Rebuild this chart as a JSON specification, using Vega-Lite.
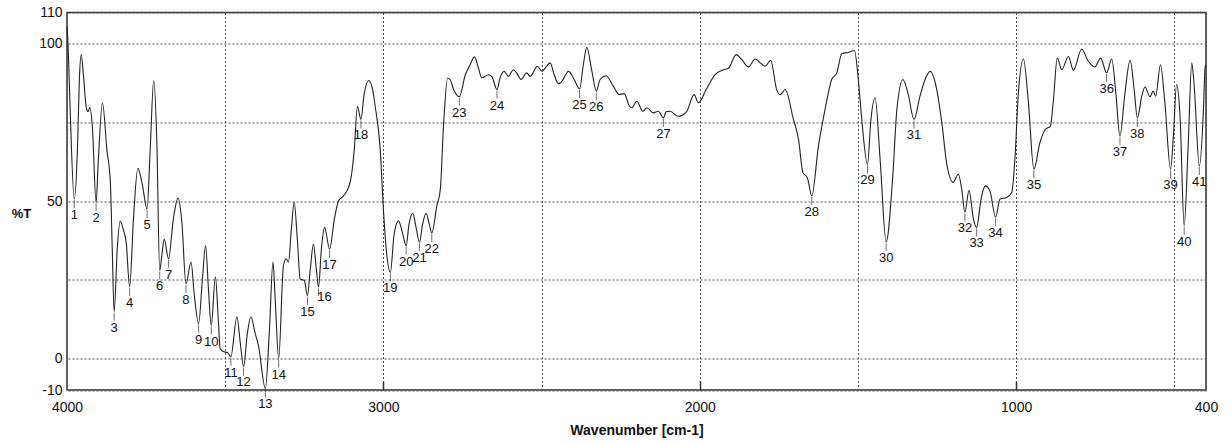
{
  "$schema": "https://vega.github.io/schema/vega-lite/v6.json",
  "autosize": {"type": "none"},
  "width": 1139,
  "height": 377.5,
  "padding": {"left": 67, "top": 12.5, "right": 25, "bottom": 55},
  "background": "white",
  "config": {
    "font": "Liberation Sans",
    "view": {"stroke": "#333", "strokeWidth": 1.5}
  },
  "datasets": {
    "spectrum": [
      {"wn": 4000, "T": 105.5}, {"wn": 3996, "T": 98}, {"wn": 3990, "T": 79}, {"wn": 3977, "T": 50.7},
      {"wn": 3967, "T": 66.5}, {"wn": 3961, "T": 88.5}, {"wn": 3955, "T": 96.6}, {"wn": 3948, "T": 90},
      {"wn": 3939, "T": 79.8}, {"wn": 3933, "T": 78.5}, {"wn": 3928, "T": 79.8}, {"wn": 3920, "T": 74},
      {"wn": 3908, "T": 49.7}, {"wn": 3901, "T": 63}, {"wn": 3888, "T": 81.4}, {"wn": 3874, "T": 66.5},
      {"wn": 3863, "T": 56}, {"wn": 3857, "T": 35}, {"wn": 3851, "T": 14.9}, {"wn": 3841, "T": 35},
      {"wn": 3832, "T": 43.7}, {"wn": 3822, "T": 41}, {"wn": 3813, "T": 37}, {"wn": 3802, "T": 22.8},
      {"wn": 3790, "T": 44.3}, {"wn": 3776, "T": 60.5}, {"wn": 3762, "T": 55.4}, {"wn": 3747, "T": 47.5},
      {"wn": 3737, "T": 66.5}, {"wn": 3726, "T": 88.4}, {"wn": 3716, "T": 68.7}, {"wn": 3707, "T": 28},
      {"wn": 3700, "T": 33}, {"wn": 3693, "T": 38}, {"wn": 3679, "T": 31.7}, {"wn": 3664, "T": 44.3},
      {"wn": 3649, "T": 51}, {"wn": 3637, "T": 43.4}, {"wn": 3624, "T": 23.7}, {"wn": 3608, "T": 30.7},
      {"wn": 3598, "T": 20.6}, {"wn": 3584, "T": 11.1}, {"wn": 3572, "T": 25.3}, {"wn": 3562, "T": 35.9},
      {"wn": 3553, "T": 22.2}, {"wn": 3544, "T": 10.5}, {"wn": 3531, "T": 26}, {"wn": 3522, "T": 12.7},
      {"wn": 3516, "T": 3.2}, {"wn": 3506, "T": 2.2}, {"wn": 3493, "T": 1.9}, {"wn": 3482, "T": 0.6},
      {"wn": 3463, "T": 13.3}, {"wn": 3452, "T": 4.7}, {"wn": 3442, "T": -2.5}, {"wn": 3430, "T": 7.9},
      {"wn": 3419, "T": 13.3}, {"wn": 3405, "T": 7.9}, {"wn": 3395, "T": 4.2}, {"wn": 3373, "T": -9.5},
      {"wn": 3360, "T": 9.5}, {"wn": 3349, "T": 30.7}, {"wn": 3342, "T": 19}, {"wn": 3331, "T": 0},
      {"wn": 3316, "T": 29.5}, {"wn": 3307, "T": 31.7}, {"wn": 3300, "T": 30.7}, {"wn": 3291, "T": 41},
      {"wn": 3282, "T": 49.7}, {"wn": 3272, "T": 38}, {"wn": 3263, "T": 25.3}, {"wn": 3250, "T": 24.8},
      {"wn": 3240, "T": 20}, {"wn": 3231, "T": 28.5}, {"wn": 3221, "T": 36.4}, {"wn": 3212, "T": 28.5},
      {"wn": 3205, "T": 22.7}, {"wn": 3196, "T": 34.8}, {"wn": 3186, "T": 41.7}, {"wn": 3170, "T": 34.8},
      {"wn": 3155, "T": 44.3}, {"wn": 3142, "T": 50.1}, {"wn": 3126, "T": 51.7}, {"wn": 3110, "T": 54.5},
      {"wn": 3102, "T": 57.6}, {"wn": 3092, "T": 66.5}, {"wn": 3082, "T": 80.2}, {"wn": 3071, "T": 76},
      {"wn": 3061, "T": 83.9}, {"wn": 3047, "T": 88.4}, {"wn": 3035, "T": 86}, {"wn": 3026, "T": 80.2},
      {"wn": 3010, "T": 66.5}, {"wn": 3000, "T": 47.5}, {"wn": 2991, "T": 34.8}, {"wn": 2978, "T": 27.4},
      {"wn": 2966, "T": 39.6}, {"wn": 2952, "T": 43.8}, {"wn": 2941, "T": 40.5}, {"wn": 2928, "T": 35.9},
      {"wn": 2919, "T": 42.7}, {"wn": 2907, "T": 46.2}, {"wn": 2897, "T": 41.8}, {"wn": 2886, "T": 37},
      {"wn": 2876, "T": 42.7}, {"wn": 2865, "T": 46.2}, {"wn": 2855, "T": 42.7}, {"wn": 2847, "T": 39.9},
      {"wn": 2831, "T": 48.5}, {"wn": 2820, "T": 53.8}, {"wn": 2810, "T": 73.9}, {"wn": 2797, "T": 89.2},
      {"wn": 2789, "T": 88.7}, {"wn": 2778, "T": 85.5}, {"wn": 2760, "T": 83.2}, {"wn": 2741, "T": 90.2},
      {"wn": 2726, "T": 93.4}, {"wn": 2712, "T": 95.9}, {"wn": 2700, "T": 92.5}, {"wn": 2689, "T": 89.2},
      {"wn": 2668, "T": 90.2}, {"wn": 2657, "T": 89.6}, {"wn": 2641, "T": 85.5}, {"wn": 2631, "T": 89.3},
      {"wn": 2618, "T": 91.3}, {"wn": 2605, "T": 89.7}, {"wn": 2589, "T": 91.8}, {"wn": 2577, "T": 90.5},
      {"wn": 2565, "T": 88.7}, {"wn": 2547, "T": 90.8}, {"wn": 2536, "T": 89.7}, {"wn": 2513, "T": 92.9},
      {"wn": 2499, "T": 91.3}, {"wn": 2485, "T": 92.8}, {"wn": 2473, "T": 94}, {"wn": 2460, "T": 90.2},
      {"wn": 2447, "T": 87.4}, {"wn": 2436, "T": 88.1}, {"wn": 2415, "T": 91.3}, {"wn": 2397, "T": 88.7},
      {"wn": 2380, "T": 85.7}, {"wn": 2368, "T": 93.4}, {"wn": 2357, "T": 98.9}, {"wn": 2341, "T": 91.3},
      {"wn": 2327, "T": 85}, {"wn": 2315, "T": 88.7}, {"wn": 2296, "T": 89.9}, {"wn": 2273, "T": 86.5},
      {"wn": 2254, "T": 83.9}, {"wn": 2239, "T": 84.2}, {"wn": 2222, "T": 80.2}, {"wn": 2215, "T": 79.7},
      {"wn": 2199, "T": 81.8}, {"wn": 2180, "T": 78.6}, {"wn": 2167, "T": 79.7}, {"wn": 2147, "T": 78.1},
      {"wn": 2131, "T": 78.6}, {"wn": 2115, "T": 76.5}, {"wn": 2106, "T": 78.5}, {"wn": 2094, "T": 78.6},
      {"wn": 2068, "T": 77}, {"wn": 2041, "T": 78.6}, {"wn": 2018, "T": 83.9}, {"wn": 2004, "T": 81.3},
      {"wn": 1980, "T": 85.5}, {"wn": 1952, "T": 90.2}, {"wn": 1925, "T": 91.8}, {"wn": 1909, "T": 92.3},
      {"wn": 1885, "T": 96.6}, {"wn": 1867, "T": 95}, {"wn": 1846, "T": 92.7}, {"wn": 1825, "T": 95.2},
      {"wn": 1809, "T": 94}, {"wn": 1793, "T": 92.9}, {"wn": 1776, "T": 94.8}, {"wn": 1757, "T": 85.5},
      {"wn": 1746, "T": 83.9}, {"wn": 1730, "T": 85.5}, {"wn": 1704, "T": 76}, {"wn": 1688, "T": 69.7},
      {"wn": 1674, "T": 59.1}, {"wn": 1660, "T": 57.5}, {"wn": 1646, "T": 51.7}, {"wn": 1625, "T": 67.5},
      {"wn": 1604, "T": 79.2}, {"wn": 1583, "T": 88.7}, {"wn": 1567, "T": 90.8}, {"wn": 1551, "T": 96.9},
      {"wn": 1530, "T": 97.3}, {"wn": 1511, "T": 97.9}, {"wn": 1499, "T": 88.7}, {"wn": 1488, "T": 76},
      {"wn": 1470, "T": 61.7}, {"wn": 1459, "T": 76}, {"wn": 1446, "T": 82.9}, {"wn": 1430, "T": 63.3},
      {"wn": 1411, "T": 37}, {"wn": 1390, "T": 58}, {"wn": 1377, "T": 79.2}, {"wn": 1358, "T": 88.7},
      {"wn": 1341, "T": 83.9}, {"wn": 1323, "T": 76}, {"wn": 1304, "T": 83.4}, {"wn": 1288, "T": 88.7},
      {"wn": 1272, "T": 91.3}, {"wn": 1251, "T": 85.5}, {"wn": 1235, "T": 75}, {"wn": 1220, "T": 62.3},
      {"wn": 1199, "T": 56}, {"wn": 1183, "T": 58.6}, {"wn": 1172, "T": 53.8}, {"wn": 1162, "T": 46.5},
      {"wn": 1149, "T": 53.5}, {"wn": 1135, "T": 44.3}, {"wn": 1125, "T": 41.7}, {"wn": 1111, "T": 50.7},
      {"wn": 1098, "T": 54.9}, {"wn": 1083, "T": 53.3}, {"wn": 1065, "T": 44.9}, {"wn": 1051, "T": 50.7},
      {"wn": 1030, "T": 51.2}, {"wn": 1014, "T": 52.8}, {"wn": 1004, "T": 63.3}, {"wn": 993, "T": 84.5},
      {"wn": 977, "T": 95.2}, {"wn": 962, "T": 82.3}, {"wn": 944, "T": 60.2}, {"wn": 925, "T": 68.6},
      {"wn": 908, "T": 72.8}, {"wn": 892, "T": 73.9}, {"wn": 883, "T": 81.3}, {"wn": 870, "T": 95.5},
      {"wn": 856, "T": 91.8}, {"wn": 835, "T": 96}, {"wn": 819, "T": 91.6}, {"wn": 793, "T": 98.4},
      {"wn": 772, "T": 94.5}, {"wn": 751, "T": 92.7}, {"wn": 733, "T": 95.5}, {"wn": 714, "T": 90.8},
      {"wn": 698, "T": 95.2}, {"wn": 685, "T": 84.5}, {"wn": 672, "T": 70.7}, {"wn": 656, "T": 84.5},
      {"wn": 640, "T": 94.8}, {"wn": 627, "T": 85.5}, {"wn": 617, "T": 76.5}, {"wn": 603, "T": 83.4},
      {"wn": 593, "T": 86.3}, {"wn": 577, "T": 83.2}, {"wn": 567, "T": 85}, {"wn": 559, "T": 83.4},
      {"wn": 544, "T": 93.4}, {"wn": 530, "T": 81.3}, {"wn": 512, "T": 60.2}, {"wn": 503, "T": 70.7},
      {"wn": 493, "T": 87.1}, {"wn": 482, "T": 77}, {"wn": 469, "T": 42.2}, {"wn": 456, "T": 68.6},
      {"wn": 445, "T": 94}, {"wn": 438, "T": 87.6}, {"wn": 421, "T": 61.2}, {"wn": 408, "T": 79.2},
      {"wn": 403, "T": 92.3}, {"wn": 400, "T": 93.4}
    ],
    "peaks": [
      {"label": "1", "wn": 3977, "T": 50.7}, {"label": "2", "wn": 3908, "T": 49.7},
      {"label": "3", "wn": 3851, "T": 14.9}, {"label": "4", "wn": 3802, "T": 22.8},
      {"label": "5", "wn": 3747, "T": 47.5}, {"label": "6", "wn": 3707, "T": 28},
      {"label": "7", "wn": 3679, "T": 31.7}, {"label": "8", "wn": 3624, "T": 23.7},
      {"label": "9", "wn": 3584, "T": 11.1}, {"label": "10", "wn": 3544, "T": 10.5},
      {"label": "11", "wn": 3482, "T": 0.6}, {"label": "12", "wn": 3442, "T": -2.5},
      {"label": "13", "wn": 3373, "T": -9.5}, {"label": "14", "wn": 3331, "T": 0},
      {"label": "15", "wn": 3240, "T": 20}, {"label": "16", "wn": 3205, "T": 22.7},
      {"label": "17", "wn": 3170, "T": 34.8}, {"label": "18", "wn": 3071, "T": 76},
      {"label": "19", "wn": 2978, "T": 27.4}, {"label": "20", "wn": 2928, "T": 35.9},
      {"label": "21", "wn": 2886, "T": 37}, {"label": "22", "wn": 2847, "T": 39.9},
      {"label": "23", "wn": 2760, "T": 83.2}, {"label": "24", "wn": 2641, "T": 85.5},
      {"label": "25", "wn": 2380, "T": 85.7}, {"label": "26", "wn": 2327, "T": 85},
      {"label": "27", "wn": 2115, "T": 76.5}, {"label": "28", "wn": 1646, "T": 51.7},
      {"label": "29", "wn": 1470, "T": 61.7}, {"label": "30", "wn": 1411, "T": 37},
      {"label": "31", "wn": 1323, "T": 76}, {"label": "32", "wn": 1162, "T": 46.5},
      {"label": "33", "wn": 1125, "T": 41.7}, {"label": "34", "wn": 1065, "T": 44.9},
      {"label": "35", "wn": 944, "T": 60.2}, {"label": "36", "wn": 714, "T": 90.8},
      {"label": "37", "wn": 672, "T": 70.7}, {"label": "38", "wn": 617, "T": 76.5},
      {"label": "39", "wn": 512, "T": 60.2}, {"label": "40", "wn": 469, "T": 42.2},
      {"label": "41", "wn": 421, "T": 61.2}
    ]
  },
  "layer": [
    {
      "data": {"name": "spectrum"},
      "mark": {"type": "line", "stroke": "#222", "strokeWidth": 1.1, "interpolate": "monotone"},
      "encoding": {
        "x": {
          "field": "wn", "type": "quantitative", "sort": null,
          "scale": {"domain": [400, 4000], "reverse": true, "nice": false, "zero": false},
          "axis": {
            "title": "Wavenumber [cm-1]",
            "values": [4000, 3500, 3000, 2500, 2000, 1500, 1000, 500, 400],
            "format": "d",
            "labelExpr": "(datum.value % 1000 === 0 || datum.value === 400) ? datum.label : ''",
            "labelFontSize": 14, "labelColor": "#111", "labelPadding": 19, "labelFlush": false,
            "domain": false,
            "grid": true, "gridDash": [2, 2], "gridColor": "#555", "gridWidth": 1,
            "tickSize": -9, "tickColor": "#333", "tickWidth": 1.5,
            "tickOpacity": {"condition": {"test": "datum.value % 1000 === 0 && datum.value < 4000", "value": 1}, "value": 0},
            "titleFontSize": 14, "titleFontWeight": "bold", "titleColor": "#111",
            "titleY": 40, "titleBaseline": "middle"
          }
        },
        "y": {
          "field": "T", "type": "quantitative",
          "scale": {"domain": [-10, 110], "nice": false, "zero": false},
          "axis": {
            "title": "%T",
            "values": [110, 100, 75, 50, 25, 0, -10],
            "labelExpr": "(datum.value === 75 || datum.value === 25) ? '' : toString(datum.value)",
            "labelFontSize": 14, "labelColor": "#111", "labelPadding": 5, "labelFlush": false,
            "domain": false, "ticks": false, "tickSize": 0,
            "grid": true, "gridDash": [2, 2], "gridColor": "#555", "gridWidth": 1,
            "titleAngle": 0, "titleX": -46, "titleY": 201, "titleAlign": "center", "titleBaseline": "middle",
            "titleFontSize": 13, "titleFontWeight": "bold", "titleColor": "#111"
          }
        }
      }
    },
    {
      "data": {"name": "peaks"},
      "mark": {"type": "tick", "orient": "vertical", "size": 8, "thickness": 1, "color": "#333", "yOffset": 5},
      "encoding": {
        "x": {"field": "wn", "type": "quantitative"},
        "y": {"field": "T", "type": "quantitative"}
      }
    },
    {
      "data": {"name": "peaks"},
      "transform": [{"filter": "datum.label !== '16'"}],
      "mark": {"type": "text", "fontSize": 13, "color": "#111", "baseline": "top", "dy": 10},
      "encoding": {
        "x": {"field": "wn", "type": "quantitative"},
        "y": {"field": "T", "type": "quantitative"},
        "text": {"field": "label"}
      }
    },
    {
      "data": {"name": "peaks"},
      "transform": [{"filter": "datum.label === '16'"}],
      "mark": {"type": "text", "fontSize": 13, "color": "#111", "baseline": "top", "dy": 4, "dx": 6},
      "encoding": {
        "x": {"field": "wn", "type": "quantitative"},
        "y": {"field": "T", "type": "quantitative"},
        "text": {"field": "label"}
      }
    }
  ]
}
